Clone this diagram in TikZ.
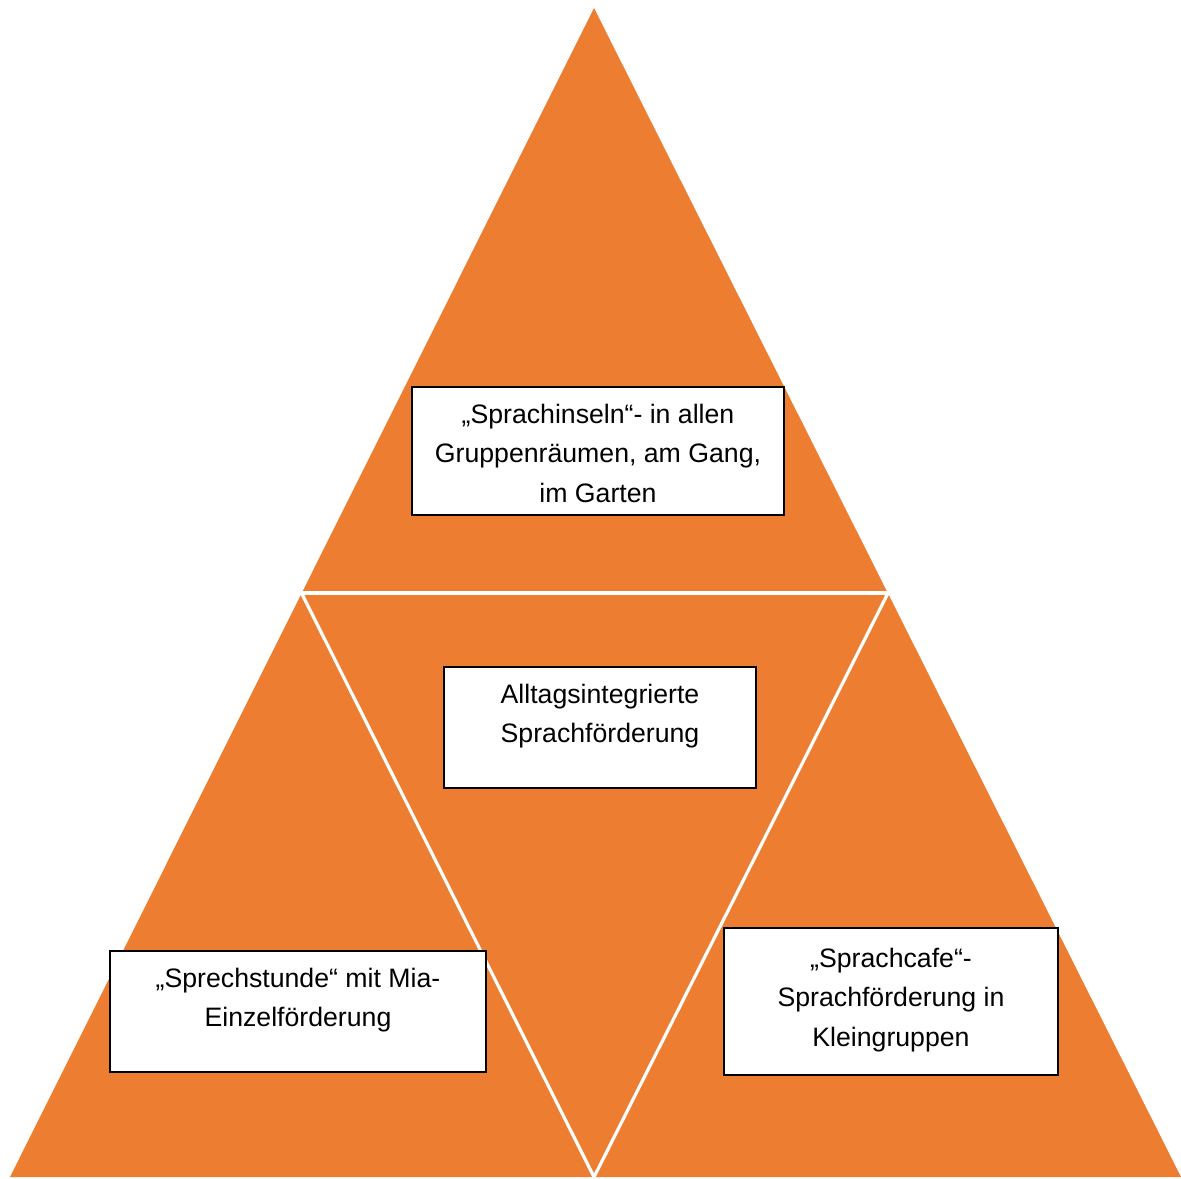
\documentclass[tikz,border=0pt]{standalone}
\usepackage{fontspec}
\setmainfont{Liberation Sans}
\definecolor{pyramidorange}{HTML}{ED7D31}

\tikzset{every picture/.style={line width=0.75pt}}
\tikzset{
  infobox/.style={draw=black, line width=1.5pt, fill=white, inner sep=0pt, anchor=north west, font=\fontsize{20}{29.5}\selectfont},
  gapline/.style={draw=white, line width=2.4pt}
}
% box text: width, height, first baseline, lines
\newcommand{\boxlines}[4]{\parbox[t][#2][t]{#1}{\centering\rule{0pt}{#3}#4}}

\begin{document}
\begin{tikzpicture}[x=0.75pt,y=0.75pt,yscale=-1,xscale=1]
\useasboundingbox (0,0) rectangle (1181,1178);

%Shape: Triangle [outer corners and midpoints]
\coordinate (apex) at (594,8);
\coordinate (cornerL) at (10,1177);
\coordinate (cornerR) at (1181,1177);
\coordinate (midL) at (301.5,593);
\coordinate (midR) at (888,593);
\coordinate (midB) at (594,1177);
\fill [pyramidorange] (apex) -- (cornerR) -- (cornerL) -- cycle ;

%Straight Lines [gaps between the four triangles]
\draw [gapline] (midL) -- (midR) ;
\draw [gapline] (midL) -- (midB) ;
\draw [gapline] (midR) -- (midB) ;

% Text Node
\node [infobox] (inseln) at (411,386) {\boxlines{279pt}{96pt}{27.3pt}{„Sprachinseln“- in allen\\Gruppenräumen, am Gang,\\im Garten}};
% Text Node
\node [infobox] (alltag) at (443,666) {\boxlines{234pt}{90.75pt}{27.3pt}{Alltagsintegrierte\\Sprachförderung}};
% Text Node
\node [infobox] (sprechstunde) at (109,950) {\boxlines{282pt}{90.75pt}{27.3pt}{„Sprechstunde“ mit Mia-\\Einzelförderung}};
% Text Node
\node [infobox] (cafe) at (723,927) {\boxlines{250.5pt}{110.25pt}{29.5pt}{„Sprachcafe“-\\Sprachförderung in\\Kleingruppen}};

\end{tikzpicture}
\end{document}
